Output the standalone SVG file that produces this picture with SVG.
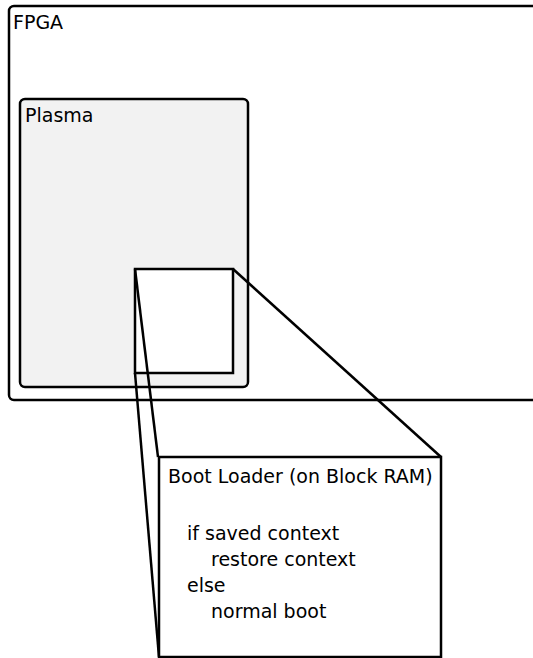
<svg xmlns="http://www.w3.org/2000/svg" width="533" height="658" viewBox="0 0 533 658">
<style>
text{font-family:"DejaVu Sans",sans-serif;font-size:19px;fill:#000}
.b{stroke:#000;stroke-width:2.5;fill:none}
</style>
<rect width="533" height="658" fill="#fff"/>
<g id="fpga">
<rect class="b" x="9" y="6" width="540" height="394" rx="5" fill="#fff"/>
<text x="13" y="29">FPGA</text>
</g>
<g id="plasma">
<rect class="b" x="20" y="99" width="228" height="288" rx="5" style="fill:#f2f2f2"/>
<text x="25" y="122">Plasma</text>
</g>
<g id="region">
<rect class="b" x="135" y="269" width="98" height="104" style="fill:#fff"/>
</g>
<g id="connectors">
<line class="b" x1="135" y1="269" x2="158" y2="457"/>
<line class="b" x1="135" y1="373" x2="159" y2="657"/>
<line class="b" x1="233" y1="269" x2="441" y2="457"/>
</g>
<g id="bootloader">
<rect class="b" x="159" y="457" width="282" height="200" style="fill:#fff"/>
<text x="168" y="483">Boot Loader (on Block RAM)</text>
<text x="187" y="540">if saved context</text>
<text x="211" y="566">restore context</text>
<text x="187" y="592">else</text>
<text x="211" y="618">normal boot</text>
</g>
</svg>
